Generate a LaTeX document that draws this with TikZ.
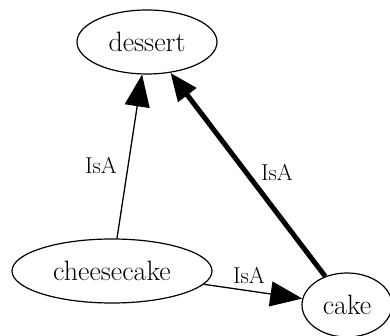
\documentclass[tikz,border=0pt]{standalone}
\usepackage{fontspec}
\usetikzlibrary{shapes.geometric,arrows.meta}
\tikzset{
  concept/.style={ellipse, draw, line width=1.2pt, inner sep=0pt,
    font=\fontsize{28}{33}\selectfont},
  isa/.style={line width=1.3pt, -{Triangle[length=32pt,width=25pt]}},
  isathick/.style={line width=5pt, -{Triangle[length=28pt,width=22pt]}},
  lbl/.style={font=\fontsize{23}{27}\selectfont, inner sep=0pt}
}
\begin{document}
\begin{tikzpicture}[x=1pt,y=-1pt]
\useasboundingbox (0,0) rectangle (390,336);
\node[concept, minimum width=140pt, minimum height=64pt] (dessert) at (147,42) {dessert};
\node[concept, minimum width=200pt, minimum height=64pt] (cheesecake) at (112,271) {cheesecake};
\node[concept, minimum width=90pt, minimum height=64pt] (cake) at (347,305) {cake};
\draw[isa] (cheesecake) -- (dessert);
\draw[isathick] (cake) -- (dessert);
\draw[isa] (cheesecake) -- (cake);
\node[lbl] (l1) at (101,165) {IsA};
\node[lbl] (l2) at (277,172) {IsA};
\node[lbl] (l3) at (249,275) {IsA};
\end{tikzpicture}
\end{document}
